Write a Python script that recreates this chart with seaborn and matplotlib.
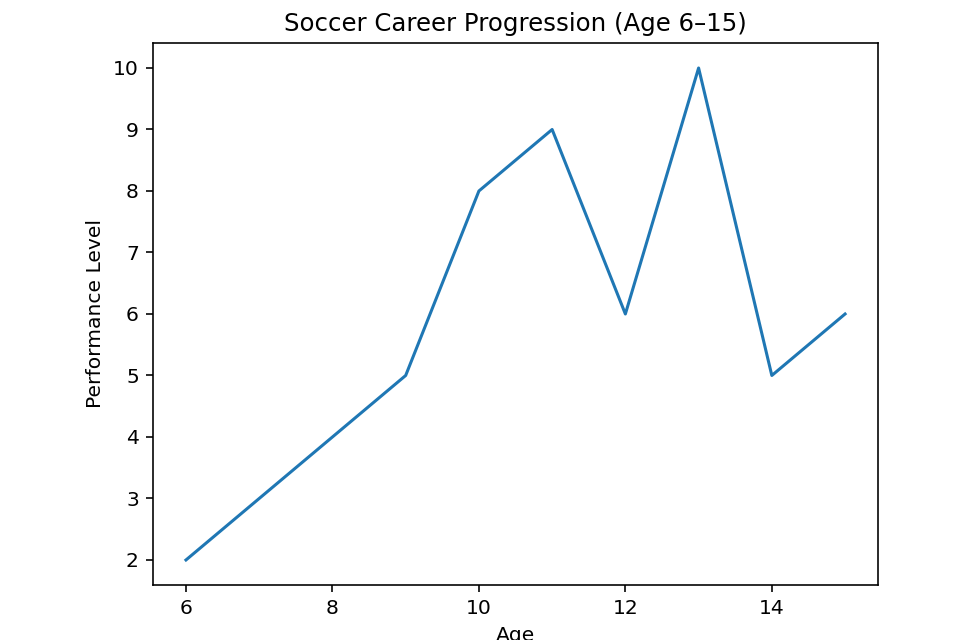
import matplotlib
matplotlib.use("Agg")
import matplotlib.pyplot as plt
import seaborn as sns
import pandas as pd

ages = [6, 7, 8, 9, 10, 11, 12, 13, 14, 15]
performance = [2, 3, 4, 5, 8, 9, 6, 10, 5, 6]
title = "Soccer Career Progression (Age 6\u201315)"
x_label = "Age"
y_label = "Performance Level"

s = 1.46
plt.rcParams.update({
    "font.family": ["DejaVu Sans"],
    "font.size": 10 * s,
    "axes.linewidth": 0.8 * s,
    "xtick.major.size": 3.5 * s,
    "ytick.major.size": 3.5 * s,
    "xtick.major.width": 0.8 * s,
    "ytick.major.width": 0.8 * s,
    "xtick.major.pad": 3.5 * s,
    "ytick.major.pad": 3.5 * s,
})

df = pd.DataFrame({"Age": ages, "Performance": performance})

fig = plt.figure(figsize=(9.6, 6.4), dpi=100)
ax = fig.add_axes([0.1594, 0.0866, 0.9146 - 0.1594, 0.9322 - 0.0866])
sns.lineplot(data=df, x="Age", y="Performance", ax=ax, color="#1f77b4", linewidth=1.5 * s)
ax.set_title(title, fontsize=12 * s, pad=6 * s)
ax.set_xlabel(x_label, fontsize=10 * s, labelpad=4 * s)
ax.set_ylabel(y_label, fontsize=10 * s, labelpad=4 * s)
ax.set_xticks([6, 8, 10, 12, 14])
ax.set_yticks(range(2, 11))
ax.tick_params(labelsize=10 * s)
fig.savefig("out.png", dpi=100)
